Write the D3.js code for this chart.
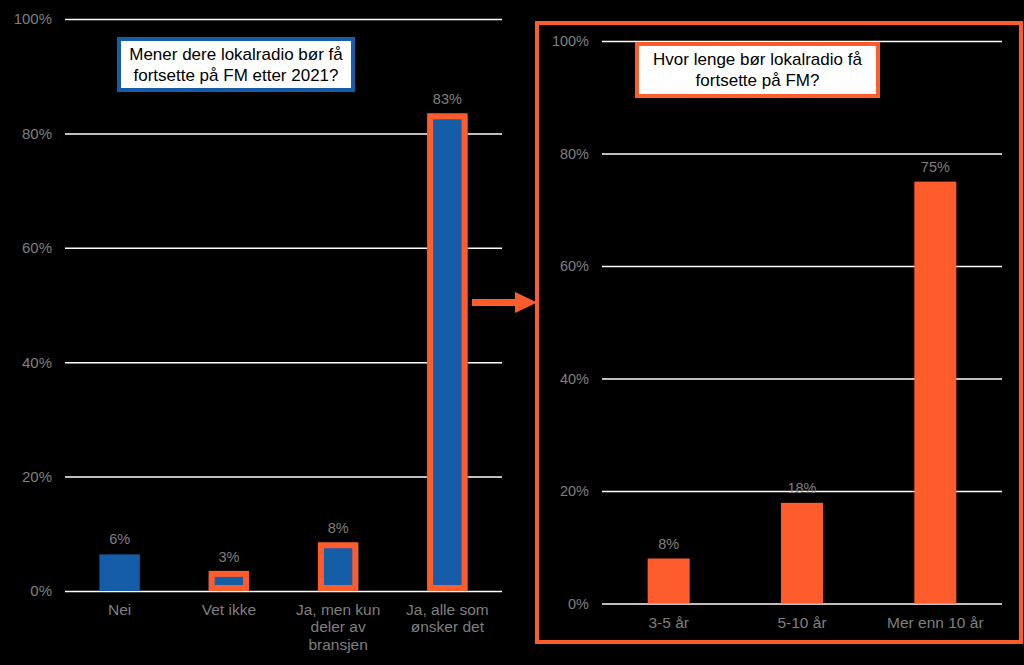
<!DOCTYPE html>
<html>
<head>
<meta charset="utf-8">
<script src="https://d3js.org/d3.v7.min.js"></script>
<style>
  body { margin: 0; background: #000; }
  text { font-family: "Liberation Sans", Arial, sans-serif; }
</style>
</head>
<body>
<svg id="vis"></svg>
<script>
// Left chart data
var leftCats = ["Nei", "Vet ikke", "Ja, men kun\ndeler av\nbransjen", "Ja, alle som\nønsker det"];
var leftValues = [6.4, 3, 8, 83];
var leftLabels = ["6%", "3%", "8%", "83%"];
var leftOutlined = [false, true, true, true];

// Right chart data
var rightCats = ["3-5 år", "5-10 år", "Mer enn 10 år"];
var rightValues = [8, 17.9, 75];
var rightLabels = ["8%", "18%", "75%"];

var yTicks = [0, 20, 40, 60, 80, 100];

var blue = "#165da8", orange = "#ff5c2e", grey = "#7f7f7f";

var svg = d3.select("#vis")
    .attr("width", 1024)
    .attr("height", 665)
    .style("background", "#000");

function drawChart(opt) {
    var g = svg.append("g");

    var rows = opt.cats.map(function(c, i) {
        return { cat: c, value: opt.values[i], label: opt.labels[i],
                 outlined: opt.outlined ? opt.outlined[i] : false };
    });

    var y = d3.scaleLinear().domain([0, 100]).range([opt.y0, opt.y1]);
    var x = d3.scaleBand()
        .domain(opt.cats)
        .range([opt.x0, opt.x1])
        .paddingInner(opt.pad)
        .paddingOuter(opt.pad / 2);

    // gridlines + tick labels
    var ax = g.append("g")
        .attr("transform", "translate(" + opt.x0 + ",0)")
        .call(d3.axisLeft(y).tickValues(yTicks).tickSize(-(opt.x1 - opt.x0)).tickPadding(13)
            .tickFormat(function(d) { return d + "%"; }));
    ax.select(".domain").remove();
    ax.selectAll("line").attr("stroke", "#fff").attr("stroke-width", 1.5);
    ax.selectAll("text").attr("fill", grey).style("font-size", opt.tickSize + "px")
        .style("font-family", "'Liberation Sans', Arial, sans-serif");

    // bars
    g.selectAll(".bar")
        .data(rows)
        .enter().append("rect")
        .attr("x", function(d) { return x(d.cat); })
        .attr("width", x.bandwidth())
        .attr("y", function(d) { return y(d.value); })
        .attr("height", function(d) { return y(0) - y(d.value); })
        .attr("fill", opt.color);

    // orange outlines
    g.selectAll(".outline")
        .data(rows.filter(function(d) { return d.outlined; }))
        .enter().append("rect")
        .attr("x", function(d) { return x(d.cat) + 3; })
        .attr("width", x.bandwidth() - 6)
        .attr("y", function(d) { return y(d.value); })
        .attr("height", function(d) { return y(0) - y(d.value) - 3; })
        .attr("fill", "none")
        .attr("stroke", orange)
        .attr("stroke-width", 6);

    // value labels
    g.selectAll(".val")
        .data(rows)
        .enter().append("text")
        .attr("x", function(d) { return x(d.cat) + x.bandwidth() / 2; })
        .attr("y", function(d) { return y(d.value) - (d.outlined ? 12 : 10); })
        .attr("text-anchor", "middle")
        .attr("fill", grey)
        .style("font-size", opt.valSize + "px")
        .text(function(d) { return d.label; });

    // category labels
    var cl = g.selectAll(".cat")
        .data(opt.cats)
        .enter().append("text")
        .attr("text-anchor", "middle")
        .attr("fill", grey)
        .style("font-size", opt.catSize + "px")
        .attr("transform", function(d) {
            return "translate(" + (x(d) + x.bandwidth() / 2) + "," + opt.catY + ")";
        });
    cl.selectAll("tspan")
        .data(function(d) { return d.split("\n"); })
        .enter().append("tspan")
        .attr("x", 0)
        .attr("dy", function(d, i) { return i === 0 ? 0 : 17.5; })
        .text(function(d) { return d; });

    return { x: x, y: y };
}

// right frame
svg.append("rect")
    .attr("x", 537).attr("y", 23)
    .attr("width", 484).attr("height", 619)
    .attr("fill", "none")
    .attr("stroke", orange)
    .attr("stroke-width", 4);

var left = drawChart({
    cats: leftCats, values: leftValues, labels: leftLabels, outlined: leftOutlined,
    color: blue, x0: 65, x1: 502, y0: 591, y1: 19, pad: 0.63,
    tickSize: 15, valSize: 14.5, catSize: 15.5, catY: 614.5
});

var right = drawChart({
    cats: rightCats, values: rightValues, labels: rightLabels,
    color: orange, x0: 602, x1: 1002, y0: 603.5, y1: 41, pad: 0.685,
    tickSize: 14.5, valSize: 14.5, catSize: 15.5, catY: 627.5
});

// title boxes
function titleBox(x, y, w, h, stroke, lines) {
    svg.append("rect")
        .attr("x", x).attr("y", y).attr("width", w).attr("height", h)
        .attr("fill", "#fff").attr("stroke", stroke).attr("stroke-width", 4);
    var t = svg.append("text")
        .attr("text-anchor", "middle")
        .attr("fill", "#000")
        .style("font-size", "17px");
    lines.forEach(function(l, i) {
        t.append("tspan")
            .attr("x", x + w / 2)
            .attr("y", y + h / 2 - 5 + i * 21)
            .text(l);
    });
}
titleBox(119, 39, 234, 51, blue, ["Mener dere lokalradio bør få", "fortsette på FM etter 2021?"]);
titleBox(637, 44, 241, 52, orange, ["Hvor lenge bør lokalradio få", "fortsette på FM?"]);

// arrow pointing from left chart to right chart
var ay = left.y(50) - 2.5;
svg.append("rect")
    .attr("x", 472).attr("y", ay - 3.5).attr("width", 45).attr("height", 7)
    .attr("fill", orange);
svg.append("path")
    .attr("d", "M515," + (ay - 10.5) + "L537," + ay + "L515," + (ay + 10.5) + "Z")
    .attr("fill", orange);
</script>
</body>
</html>
